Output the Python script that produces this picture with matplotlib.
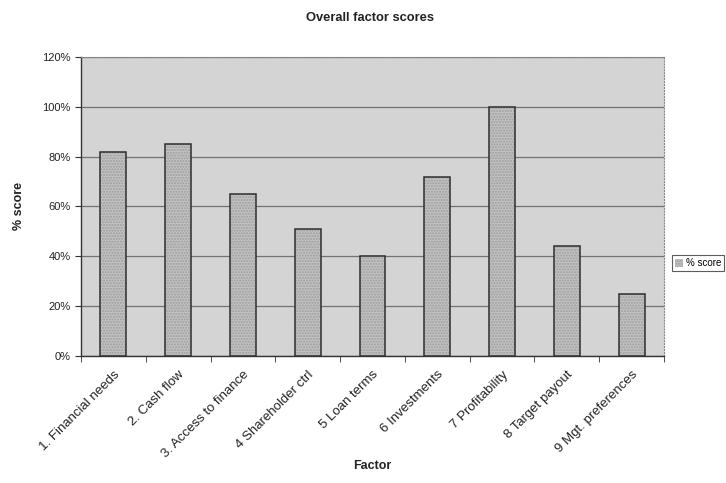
import matplotlib
matplotlib.use("Agg")
import matplotlib.pyplot as plt
import numpy as np
from matplotlib.ticker import PercentFormatter, FixedLocator

categories = ["1. Financial needs", "2. Cash flow", "3. Access to finance",
              "4 Shareholder ctrl", "5 Loan terms", "6 Investments",
              "7 Profitability", "8 Target payout", "9 Mgt. preferences"]
scores = [82, 85, 65, 51, 40, 72, 100, 44, 25]
yticks = [0, 20, 40, 60, 80, 100, 120]

plt.rcParams['font.family'] = ['Liberation Sans', 'DejaVu Sans']

fig = plt.figure(figsize=(7.26, 4.83), dpi=100)
ax = fig.add_axes([0.1116, 0.263, 0.8030, 0.619])
ax.set_facecolor('#d4d4d4')

x = np.arange(len(categories))
# fill with light stipple
ax.bar(x, scores, width=0.4, color='#c2c2c2', edgecolor='#9c9c9c',
       linewidth=0, hatch='......', zorder=3, label='% score')
# dark outline
ax.bar(x, scores, width=0.4, fill=False, edgecolor='#2e2e2e',
       linewidth=1.1, zorder=4)

ax.set_xlim(-0.5, len(categories) - 0.5)
ax.set_ylim(0, 120)
ax.set_yticks(yticks)
ax.yaxis.set_major_formatter(PercentFormatter(decimals=0))
ax.grid(axis='y', color='#727272', linewidth=0.9, zorder=1)
ax.set_axisbelow(True)

ax.set_xticks(x)
ax.set_xticklabels(categories, rotation=45, ha='right', va='top',
                   rotation_mode='anchor', fontsize=9.5, color='#222222')
ax.tick_params(axis='x', length=0, pad=9)
ax.xaxis.set_minor_locator(FixedLocator(np.arange(-0.5, len(categories), 1.0)))
ax.tick_params(axis='x', which='minor', length=4, color='#333333')
ax.tick_params(axis='y', labelsize=8, length=4, color='#333333', labelcolor='#222222')

for side in ['top', 'right']:
    ax.spines[side].set_color('#888888')
    ax.spines[side].set_linestyle(':')
    ax.spines[side].set_linewidth(0.8)
for side in ['left', 'bottom']:
    ax.spines[side].set_color('#333333')
    ax.spines[side].set_linewidth(1.0)

ax.set_ylabel('% score', fontsize=9, fontweight='bold', color='#222222', labelpad=12)
ax.set_xlabel('Factor', fontsize=9, fontweight='bold', color='#222222', labelpad=0)
fig.text(0.51, 0.963, 'Overall factor scores', ha='center', va='center',
         fontsize=9.3, fontweight='bold', color='#222222')

leg = fig.legend(loc='center left', bbox_to_anchor=(0.926, 0.455), fontsize=7,
                 frameon=True, fancybox=False, edgecolor='#333333',
                 handlelength=0.8, handleheight=0.8, handletextpad=0.3,
                 borderpad=0.3, borderaxespad=0)
leg.get_frame().set_linewidth(0.8)

fig.savefig('out.png', dpi=100)
